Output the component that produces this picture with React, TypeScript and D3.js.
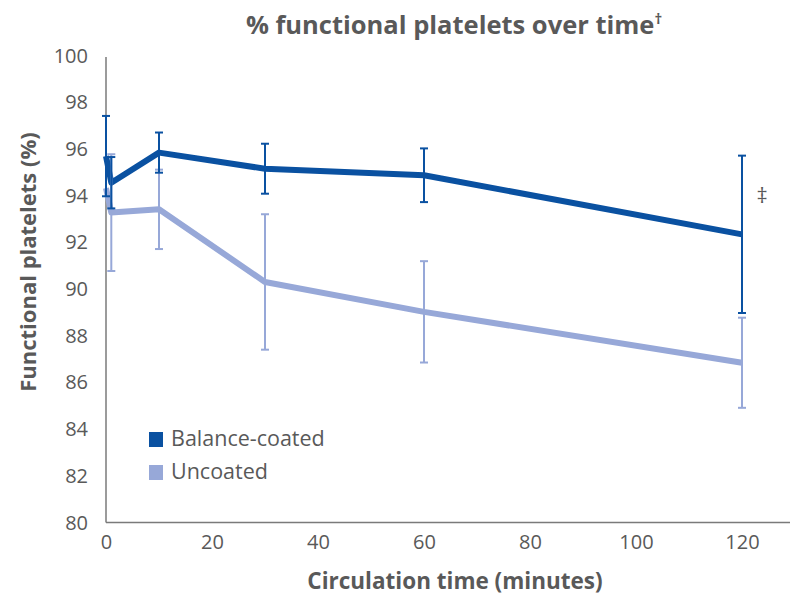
import { useEffect, useRef } from 'react'
import * as d3 from 'd3'

// data
const times = [0, 1, 10, 30, 60, 120]
const balanceMean = [95.67, 94.53, 95.82, 95.13, 94.85, 92.32]
const balanceErr = [1.72, 1.1, 0.86, 1.07, 1.15, 3.37]
const uncoatedMean = [94.3, 93.25, 93.39, 90.28, 89.0, 86.82]
const uncoatedErr = [null, 2.5, 1.7, 2.9, 2.17, 1.93]
const yTicks = [80, 82, 84, 86, 88, 90, 92, 94, 96, 98, 100]
const xTicks = [0, 20, 40, 60, 80, 100, 120]

const seriesNames = ['Balance-coated', 'Uncoated']
const seriesColors = ['#0A51A1', '#97A8D8']

const FONT = '"Open Sans", "Noto Sans", sans-serif'
const GRAY = '#595959'

const App = () => {
  const chart = useRef<SVGSVGElement>(null)

  useEffect(() => {
    const svg = d3.select(chart.current)
    svg.selectAll('*').remove()

    const x = d3.scaleLinear().domain([0, 130]).range([106, 795])
    const y = d3.scaleLinear().domain([80, 100]).range([522, 55])

    // axes
    svg.append('g')
      .attr('transform', 'translate(106,0)')
      .call(d3.axisLeft(y).tickValues(yTicks).tickSize(0).tickPadding(18).tickFormat(d3.format('d')))
      .call(g => g.select('.domain').attr('stroke', '#7a7a7a').attr('stroke-width', 1.5).attr('d', 'M0,57V522.5'))
      .call(g => g.selectAll('.tick text')
        .attr('fill', GRAY).attr('font-size', 20).attr('font-family', FONT).attr('dy', '0.35em'))

    svg.append('g')
      .attr('transform', 'translate(0,522.5)')
      .call(d3.axisBottom(x).tickValues(xTicks).tickSize(0).tickPadding(12))
      .call(g => g.select('.domain').attr('stroke', '#7a7a7a').attr('stroke-width', 1.5).attr('d', 'M106,0H790'))
      .call(g => g.selectAll('.tick text')
        .attr('fill', GRAY).attr('font-size', 20).attr('font-family', FONT))

    const series = [
      { means: uncoatedMean, errs: uncoatedErr, color: seriesColors[1] },
      { means: balanceMean, errs: balanceErr, color: seriesColors[0] },
    ]

    const line = d3.line<number>()
      .x((_, i) => x(times[i]))
      .y(d => y(d))

    series.forEach(s => {
      svg.append('path')
        .datum(s.means)
        .attr('fill', 'none')
        .attr('stroke', s.color)
        .attr('stroke-width', 6)
        .attr('stroke-linejoin', 'round')
        .attr('d', line)
    })

    // error bars
    const cap = 4
    series.forEach(s => {
      const pts = times.map((t, i) => ({ t, m: s.means[i], e: s.errs[i] }))
        .filter(p => p.e != null)
      const g = svg.append('g').attr('stroke', s.color).attr('stroke-width', 2)
      pts.forEach(p => {
        const cx = x(p.t)
        const top = y(p.m + (p.e as number))
        const bot = y(p.m - (p.e as number))
        g.append('line').attr('x1', cx).attr('x2', cx).attr('y1', top).attr('y2', bot)
        g.append('line').attr('x1', cx - cap).attr('x2', cx + cap).attr('y1', top).attr('y2', top)
        g.append('line').attr('x1', cx - cap).attr('x2', cx + cap).attr('y1', bot).attr('y2', bot)
      })
    })

    // significance mark
    svg.append('text')
      .attr('x', 762).attr('y', 203)
      .attr('text-anchor', 'middle')
      .attr('fill', GRAY).attr('font-size', 22).attr('font-family', FONT)
      .text('‡')

    // legend
    const legend = svg.append('g').attr('transform', 'translate(149,432)')
    seriesNames.forEach((name, i) => {
      legend.append('rect')
        .attr('x', 0).attr('y', i * 33)
        .attr('width', 14).attr('height', 15)
        .attr('fill', seriesColors[i])
      legend.append('text')
        .attr('x', 22).attr('y', i * 33 + 14)
        .attr('fill', GRAY).attr('font-size', 21.5).attr('font-family', FONT)
        .text(name)
    })

    // titles
    const title = svg.append('text')
      .attr('x', 454).attr('y', 34)
      .attr('text-anchor', 'middle')
      .attr('fill', GRAY).attr('font-size', 25.5).attr('font-weight', 'bold').attr('font-family', FONT)
    title.append('tspan').text('% functional platelets over time')
    title.append('tspan').attr('font-size', 15).attr('dy', -10).text('†')

    svg.append('text')
      .attr('x', 455).attr('y', 589)
      .attr('text-anchor', 'middle')
      .attr('fill', GRAY).attr('font-size', 22.5).attr('font-weight', 'bold').attr('font-family', FONT)
      .text('Circulation time (minutes)')

    svg.append('text')
      .attr('transform', 'translate(36,262) rotate(-90)')
      .attr('text-anchor', 'middle')
      .attr('fill', GRAY).attr('font-size', 22).attr('font-weight', 'bold').attr('font-family', FONT)
      .text('Functional platelets (%)')
  }, [])

  return (
    <svg
      ref={chart}
      width={792}
      height={595}
      style={{ position: 'absolute', left: 0, top: 0, background: '#fff' }}
    />
  )
}

export default App
